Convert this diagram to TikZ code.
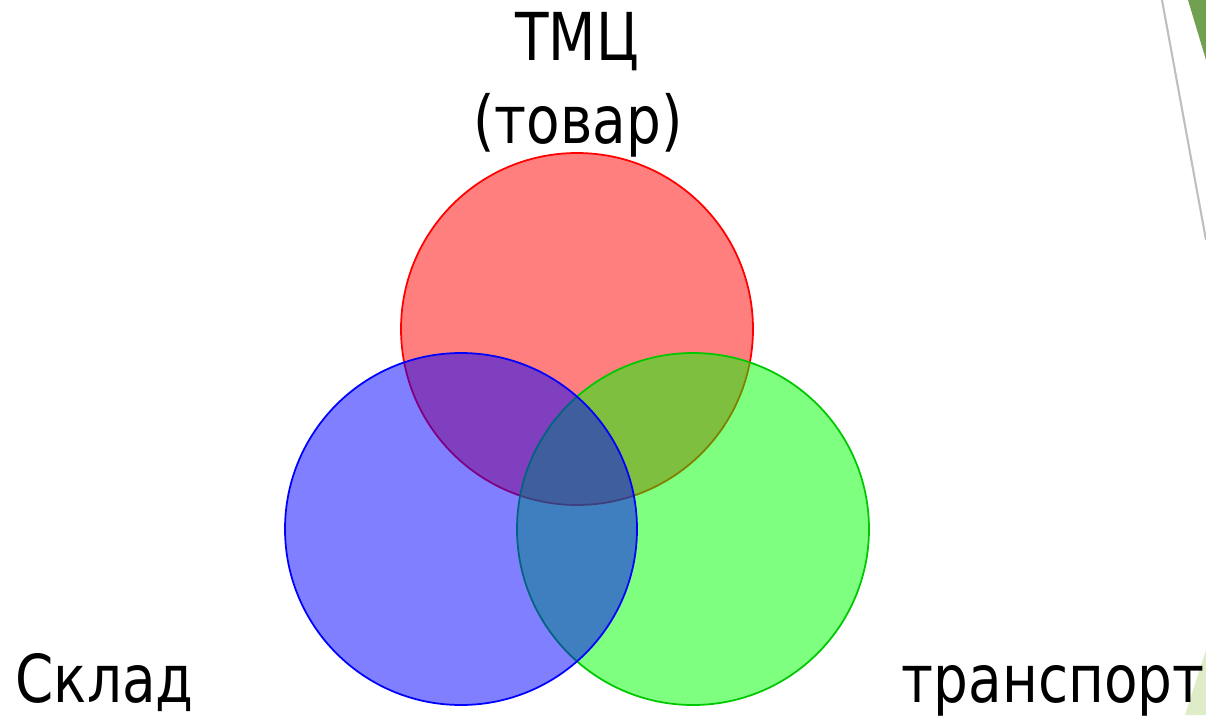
\documentclass[tikz,border=0pt]{standalone}
\usepackage{fontspec}
\setmainfont{DejaVu Sans}[FakeStretch=0.83]
\usepackage{tikz}
\definecolor{setgreen}{RGB}{0,200,0}
\definecolor{leafdark}{RGB}{112,160,80}
\definecolor{leaflight}{RGB}{222,236,200}

\begin{document}
\begin{tikzpicture}[
  set/.style={
    circle, draw, fill opacity=0.5, line width=0.5pt,
    inner sep=0pt, minimum size=3.52cm
  },
  lbl/.style={
    inner sep=0pt, anchor=base,
    font=\fontsize{18.8}{22}\selectfont
  }
]
  \useasboundingbox (0,0) rectangle (12.06,7.15);
  % slide decoration on the right edge
  \fill[leafdark] (11.88,7.15)--(12.06,7.15)--(12.06,6.55)--cycle;
  \draw[gray!50, line width=0.6pt] (11.62,7.15)--(12.06,4.75);
  \fill[leaflight] (11.85,0)--(12.06,0)--(12.06,0.65)--cycle;
  % the three sets
  \foreach \pos/\x/\dcol/\fcol in {{(5.77,3.86)}/tmc/red/red,{(6.93,1.86)}/trans/setgreen/green,{(4.61,1.86)}/sklad/blue/blue} {
    \node[set, draw=\dcol, fill=\fcol] (\x) at \pos {};
  }
  \node[lbl] (tmctxt) at (5.77,6.55) {ТМЦ};
  \node[lbl] (tovar) at (5.78,5.72) {(товар)};
  \node[lbl, anchor=base west] (skladtxt) at (0.15,0.13) {Склад};
  \node[lbl, anchor=base east] (transtxt) at (12.05,0.13) {транспорт};
\end{tikzpicture}
\end{document}
